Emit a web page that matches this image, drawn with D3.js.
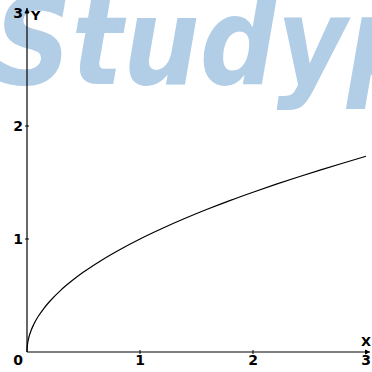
<!DOCTYPE html>
<html>
<head>
<meta charset="utf-8">
<script src="https://cdn.jsdelivr.net/npm/d3@7"></script>
<style>
  html, body { margin: 0; padding: 0; background: #fff; }
  svg { display: block; }
</style>
</head>
<body>
<svg id="chart" width="372" height="372"></svg>
<script>
// Curve samples (x, y)
const xValues = [0, 0.002, 0.01, 0.03, 0.06, 0.1, 0.15, 0.2, 0.3, 0.4, 0.5, 0.65, 0.8, 1.0, 1.2, 1.4, 1.6, 1.8, 2.0, 2.2, 2.4, 2.6, 2.8, 3.0];
const yValues = [0, 0.045, 0.1, 0.173, 0.245, 0.316, 0.387, 0.447, 0.548, 0.632, 0.707, 0.806, 0.894, 1.0, 1.095, 1.183, 1.265, 1.342, 1.414, 1.483, 1.549, 1.612, 1.673, 1.732];
const xTicks = [1, 2, 3];
const yTicks = [1, 2, 3];
const xTickLabels = ["1", "2", "3"];
const yTickLabels = ["1", "2", "3"];
const watermark = "Studyp";

const svg = d3.select("#chart");
const x = d3.scaleLinear().domain([0, 3]).range([27, 366]);
const y = d3.scaleLinear().domain([0, 3]).range([352, 13]);

// Background watermark
svg.append("text")
  .attr("x", -6).attr("y", 84)
  .attr("font-family", "DejaVu Sans")
  .attr("font-weight", "bold")
  .attr("font-style", "italic")
  .attr("font-size", 122)
  .attr("textLength", 430)
  .attr("lengthAdjust", "spacingAndGlyphs")
  .attr("fill", "#aecae5")
  .attr("fill-opacity", 0.95)
  .text(watermark);

const axisColor = "#000";

// X axis line
svg.append("line")
  .attr("x1", x(0)).attr("x2", 370)
  .attr("y1", y(0)).attr("y2", y(0))
  .attr("stroke", axisColor).attr("stroke-width", 1.2);
// Y axis line
svg.append("line")
  .attr("x1", x(0)).attr("x2", x(0))
  .attr("y1", y(0)).attr("y2", 8)
  .attr("stroke", axisColor).attr("stroke-width", 1.2);

// Arrowheads
svg.append("path")
  .attr("d", `M${370},${y(0)} l-5,-2.5 l0,5 Z`)
  .attr("fill", axisColor);
svg.append("path")
  .attr("d", `M${x(0)},8 l-2.5,5 l5,0 Z`)
  .attr("fill", axisColor);

// Tick marks
svg.selectAll(".xtick").data(xTicks).enter().append("line")
  .attr("x1", d => x(d)).attr("x2", d => x(d))
  .attr("y1", y(0) - 2).attr("y2", y(0) + 2)
  .attr("stroke", axisColor).attr("stroke-width", 1);
svg.selectAll(".ytick").data(yTicks).enter().append("line")
  .attr("x1", x(0) - 2).attr("x2", x(0) + 2)
  .attr("y1", d => y(d)).attr("y2", d => y(d))
  .attr("stroke", axisColor).attr("stroke-width", 1);

const labelFont = "DejaVu Sans";
// X tick labels
svg.selectAll(".xlab").data(xTicks).enter().append("text")
  .attr("x", d => x(d)).attr("y", y(0) + 13)
  .attr("text-anchor", "middle")
  .attr("font-family", labelFont).attr("font-weight", "bold").attr("font-size", 14)
  .text((d, i) => xTickLabels[i]);
// Y tick labels
svg.selectAll(".ylab").data(yTicks).enter().append("text")
  .attr("x", x(0) - 4).attr("y", d => y(d) + 5)
  .attr("text-anchor", "end")
  .attr("font-family", labelFont).attr("font-weight", "bold").attr("font-size", 14)
  .text((d, i) => yTickLabels[i]);
// Origin label
svg.append("text")
  .attr("x", x(0) - 4).attr("y", y(0) + 13)
  .attr("text-anchor", "end")
  .attr("font-family", labelFont).attr("font-weight", "bold").attr("font-size", 14)
  .text("0");
// Axis names
svg.append("text")
  .attr("x", 366).attr("y", y(0) - 6)
  .attr("text-anchor", "middle")
  .attr("font-family", labelFont).attr("font-weight", "bold").attr("font-size", 13)
  .text("X");
svg.append("text")
  .attr("x", x(0) + 4).attr("y", 20)
  .attr("font-family", labelFont).attr("font-weight", "bold").attr("font-size", 13)
  .text("Y");

// Curve
const pts = xValues.map((v, i) => [v, yValues[i]]);
svg.append("path")
  .datum(pts)
  .attr("d", d3.line().x(d => x(d[0])).y(d => y(d[1])).curve(d3.curveMonotoneX))
  .attr("fill", "none")
  .attr("stroke", "#000")
  .attr("stroke-width", 1.2);
</script>
</body>
</html>
